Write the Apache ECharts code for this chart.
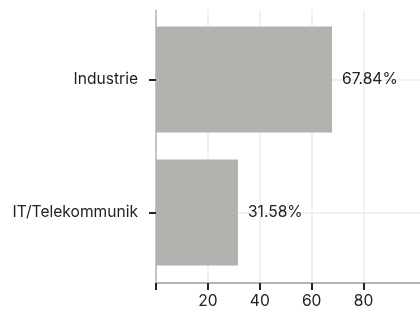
<!DOCTYPE html>
<html>
<head>
<meta charset="utf-8">
<script src="https://cdn.jsdelivr.net/npm/echarts@6/dist/echarts.min.js"></script>
<style>
html,body{margin:0;padding:0;background:#fff;}
#chart{width:420px;height:310px;}
</style>
</head>
<body>
<div id="chart"></div>
<script>
const categories = ['Industrie', 'IT/Telekommunik'];
const values = [67.84, 31.58];
const tickValues = [0, 20, 40, 60, 80];
const tickLabels = [20, 40, 60, 80];

const xMax = Math.max(...values) * 1.5;
const FONT = 'Inter';
const FS = 15.6;

const chart = echarts.init(document.getElementById('chart'), null, {renderer: 'canvas'});
chart.setOption({
  animation: false,
  backgroundColor: '#ffffff',
  textStyle: {fontFamily: FONT},
  grid: [
    {left: 156, top: 10, height: 273, width: 266.6, containLabel: false},
    {left: 156, top: 13, height: 266, width: 266.6, containLabel: false}
  ],
  xAxis: [
    {
      gridIndex: 0, type: 'value', min: 0, max: xMax, interval: 20,
      axisLine: {show: true, lineStyle: {color: '#b4b4b2', width: 2}},
      axisTick: {show: true, customValues: tickValues, length: 7, lineStyle: {color: '#222', width: 2}},
      axisLabel: {show: true, customValues: tickLabels, margin: 10, color: '#222', fontSize: FS, fontFamily: FONT},
      splitLine: {show: true, lineStyle: {color: '#ececec', width: 1.5}}
    },
    {
      gridIndex: 1, type: 'value', min: 0, max: xMax, show: false,
      splitLine: {show: false}
    }
  ],
  yAxis: [
    {
      gridIndex: 0, type: 'value', min: 0, max: 1,
      axisLine: {show: true, lineStyle: {color: '#b4b4b2', width: 1.5}},
      axisTick: {show: false}, axisLabel: {show: false}, splitLine: {show: false}
    },
    {
      gridIndex: 1, type: 'category', data: categories, inverse: true,
      axisLine: {show: false},
      axisTick: {show: true, alignWithLabel: true, length: 7, lineStyle: {color: '#222', width: 2}},
      axisLabel: {margin: 18, color: '#222', fontSize: FS, fontFamily: FONT},
      splitLine: {show: false}
    }
  ],
  series: [
    {
      type: 'bar', xAxisIndex: 1, yAxisIndex: 1, data: values, barWidth: 106, z: 2,
      itemStyle: {color: '#b3b2ae'},
      label: {show: true, position: 'right', distance: 10, color: '#222', fontSize: FS, fontFamily: FONT,
        formatter: p => p.value.toFixed(2) + '%'},
      markLine: {
        silent: true, symbol: 'none', z: 1, label: {show: false},
        lineStyle: {color: '#ececec', width: 1.5, type: 'solid'},
        data: categories.map(c => ({yAxis: c}))
      }
    }
  ]
});
</script>
</body>
</html>
